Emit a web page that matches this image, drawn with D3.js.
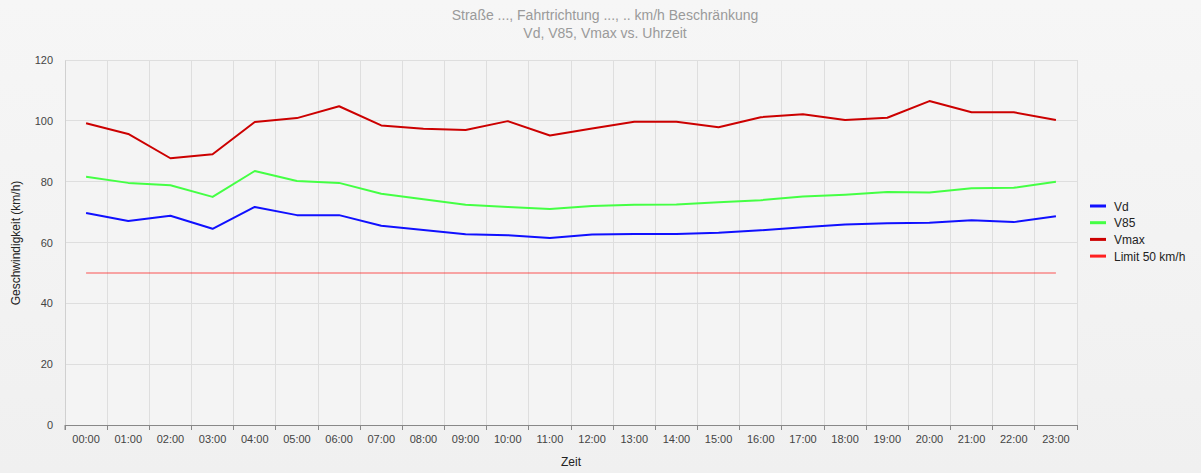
<!DOCTYPE html>
<html><head><meta charset="utf-8">
<script src="https://cdn.jsdelivr.net/npm/d3@7"></script>
<style>
html,body{margin:0;padding:0;}
body{width:1201px;height:473px;overflow:hidden;background:linear-gradient(#f6f6f6,#f0f0f0);font-family:"Liberation Sans",Arial,sans-serif;}
</style></head><body>
<svg id="c" width="1201" height="473"></svg>
<script>
const hours = ["00:00","01:00","02:00","03:00","04:00","05:00","06:00","07:00","08:00","09:00","10:00","11:00","12:00","13:00","14:00","15:00","16:00","17:00","18:00","19:00","20:00","21:00","22:00","23:00"];
const vd   = [69.7,67.1,68.8,64.5,71.7,69.0,69.0,65.5,64.1,62.7,62.4,61.5,62.6,62.8,62.8,63.2,64.0,65.0,65.9,66.3,66.5,67.3,66.7,68.6];
const v85  = [81.6,79.6,78.8,75.0,83.5,80.2,79.6,76.0,74.2,72.4,71.7,71.0,72.0,72.4,72.5,73.2,73.9,75.1,75.7,76.6,76.4,77.8,78.0,80.0];
const vmax = [99.2,95.7,87.7,89.0,99.6,100.9,104.8,98.5,97.4,97.0,99.9,95.2,97.5,99.7,99.7,97.9,101.2,102.2,100.3,101.0,106.5,102.8,102.8,100.3];
const limit = hours.map(() => 50);
const yTicks = [0,20,40,60,80,100,120];
const series = [
  {name:"Vd", values:vd, color:"#1010ff", legend:"#1010ff"},
  {name:"V85", values:v85, color:"#44ff44", legend:"#44ff44"},
  {name:"Vmax", values:vmax, color:"#cc0000", legend:"#cc0000"},
  {name:"Limit 50 km/h", values:limit, color:"rgba(255,0,0,0.33)", legend:"#ff2020"}
];

const svg = d3.select("#c");
const L = 65, R = 1077, T = 60, B = 425;
svg.append("rect").attr("x",L).attr("y",T).attr("width",R-L).attr("height",B-T).attr("fill","#f4f4f4");

const x = d3.scaleBand().domain(hours).range([L,R]);
const y = d3.scaleLinear().domain([0,120]).range([B,T]);

// grid
const g = svg.append("g");
const edges = hours.map(h => x(h)).concat([R]);
g.selectAll("line.v").data(edges.slice(1)).join("line")
  .attr("x1",d=>d).attr("x2",d=>d).attr("y1",T).attr("y2",B)
  .attr("stroke","#dedede").attr("stroke-width",1).attr("shape-rendering","crispEdges");
g.selectAll("line.h").data(yTicks.slice(1)).join("line")
  .attr("x1",L).attr("x2",R).attr("y1",d=>y(d)).attr("y2",d=>y(d))
  .attr("stroke","#dedede").attr("stroke-width",1).attr("shape-rendering","crispEdges");

// y axis
const ya = svg.append("g").attr("transform",`translate(${L},0)`)
  .call(d3.axisLeft(y).tickValues(yTicks).tickSize(0).tickPadding(12));
ya.select(".domain").attr("stroke","#d0d0d0");
ya.selectAll("text").attr("fill","#444").attr("font-size","11px").attr("font-family","Liberation Sans, Arial, sans-serif");

// x axis
const xa = svg.append("g").attr("transform",`translate(0,${B})`)
  .call(d3.axisBottom(x).tickSize(0).tickPadding(10));
xa.select(".domain").attr("stroke","#888");
xa.selectAll("text").attr("fill","#444").attr("font-size","11px").attr("font-family","Liberation Sans, Arial, sans-serif");
xa.selectAll("line.tm").data(edges).join("line").attr("class","tm")
  .attr("x1",d=>d).attr("x2",d=>d).attr("y1",0).attr("y2",5)
  .attr("stroke","#888").attr("shape-rendering","crispEdges");
// y bottom tick
svg.append("line").attr("x1",L).attr("x2",L).attr("y1",B).attr("y2",B+5).attr("stroke","#888");

// lines
const line = d3.line().x((d,i)=>x(hours[i])+x.bandwidth()/2).y(d=>y(d));
const order = [3,0,1,2];
order.forEach(k => {
  const s = series[k];
  svg.append("path").attr("d",line(s.values)).attr("fill","none")
    .attr("stroke",s.color).attr("stroke-width",2).attr("stroke-linejoin","round");
});

// titles
svg.append("text").attr("x",605).attr("y",20).attr("text-anchor","middle")
  .attr("fill","#9a9a9a").attr("font-size","14px").text("Straße ..., Fahrtrichtung ..., .. km/h Beschränkung");
svg.append("text").attr("x",605).attr("y",38).attr("text-anchor","middle")
  .attr("fill","#9a9a9a").attr("font-size","14px").text("Vd, V85, Vmax vs. Uhrzeit");

// axis titles
svg.append("text").attr("transform","translate(20,243) rotate(-90)").attr("text-anchor","middle")
  .attr("fill","#222").attr("font-size","12px").text("Geschwindigkeit (km/h)");
svg.append("text").attr("x",571).attr("y",466).attr("text-anchor","middle")
  .attr("fill","#222").attr("font-size","12px").text("Zeit");

// legend
const lg = svg.append("g");
series.forEach((s,i) => {
  const yy = 206 + i*16.7;
  lg.append("line").attr("x1",1090).attr("x2",1106).attr("y1",yy).attr("y2",yy)
    .attr("stroke",s.legend).attr("stroke-width",3);
  lg.append("text").attr("x",1114).attr("y",yy+4.5).attr("fill","#222").attr("font-size","12px").text(s.name);
});
</script>
</body></html>
